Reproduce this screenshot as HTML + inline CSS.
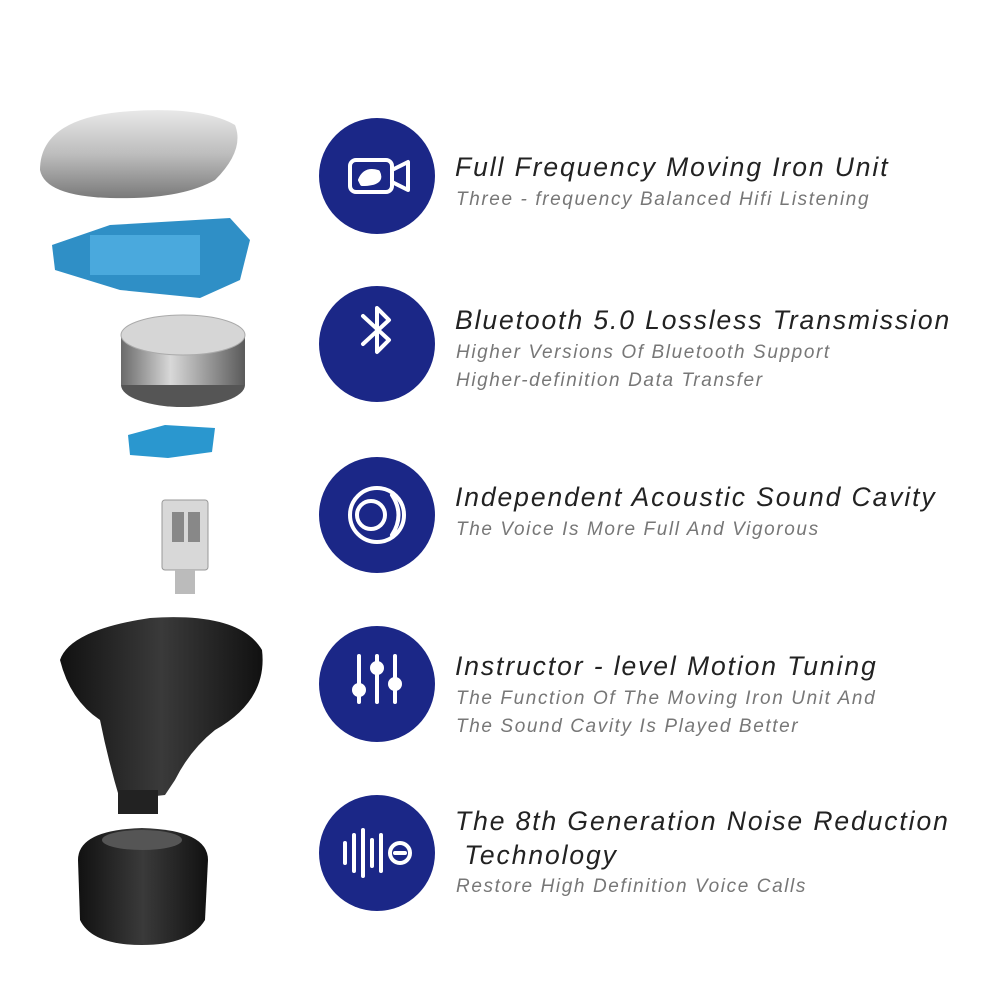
<!DOCTYPE html>
<html><head><meta charset="utf-8"><style>
html,body{margin:0;padding:0;background:#fff;}
.wrap{position:relative;width:1000px;height:1000px;overflow:hidden;font-family:"Liberation Sans",sans-serif;}
.c{position:absolute;width:116px;height:116px;border-radius:50%;background:#1b2787;}
.t{position:absolute;left:455px;font-style:italic;color:#222;font-size:26.5px;letter-spacing:1.9px;white-space:nowrap;}
.s{position:absolute;left:456px;font-style:italic;color:#777;font-size:19px;letter-spacing:1.6px;white-space:nowrap;line-height:28px;}
svg{position:absolute;left:0;top:0;}
</style></head><body><div class="wrap">
<svg width="1000" height="1000">
<defs>
<linearGradient id="sil" x1="0" y1="0" x2="0" y2="1"><stop offset="0" stop-color="#e8e8e8"/><stop offset=".5" stop-color="#bdbdbd"/><stop offset="1" stop-color="#7a7a7a"/></linearGradient>
<linearGradient id="bat" x1="0" y1="0" x2="1" y2="0"><stop offset="0" stop-color="#6a6a6a"/><stop offset=".4" stop-color="#d8d8d8"/><stop offset="1" stop-color="#5a5a5a"/></linearGradient>
<linearGradient id="blk" x1="0" y1="0" x2="1" y2="0"><stop offset="0" stop-color="#111"/><stop offset=".5" stop-color="#3a3a3a"/><stop offset="1" stop-color="#111"/></linearGradient>
</defs>
<path d="M40 170 Q40 120 120 112 Q200 105 235 125 Q245 150 215 180 Q180 200 110 198 Q45 196 40 170Z" fill="url(#sil)"/>
<path d="M52 245 L110 225 L230 218 L250 240 L240 280 L200 298 L120 290 L55 270Z" fill="#2f8fc6"/>
<rect x="90" y="235" width="110" height="40" fill="#4aa9dd"/>
<ellipse cx="183" cy="385" rx="62" ry="22" fill="#555"/>
<rect x="121" y="335" width="124" height="50" fill="url(#bat)"/>
<ellipse cx="183" cy="335" rx="62" ry="20" fill="#d6d6d6" stroke="#aaa"/>
<path d="M128 435 L165 425 L215 428 L212 452 L168 458 L130 455Z" fill="#2a97cf"/>
<rect x="162" y="500" width="46" height="70" rx="3" fill="#d8d8d8" stroke="#999"/>
<rect x="172" y="512" width="12" height="30" fill="#888"/><rect x="188" y="512" width="12" height="30" fill="#888"/>
<rect x="175" y="570" width="20" height="24" fill="#bbb"/>
<path d="M60 660 Q70 630 150 618 Q240 612 262 650 Q268 700 215 730 Q190 750 175 780 L165 795 L120 800 Q108 760 100 720 Q70 700 60 660Z" fill="url(#blk)"/>
<rect x="118" y="790" width="40" height="24" fill="#222"/>
<path d="M78 860 Q78 830 142 828 Q208 830 208 860 L205 920 Q190 945 142 945 Q92 945 80 920Z" fill="url(#blk)"/>
<ellipse cx="142" cy="840" rx="40" ry="10" fill="#555"/>
</svg>
<div class="c" style="left:319px;top:118px"></div>
<div class="c" style="left:319px;top:286px"></div>
<div class="c" style="left:319px;top:457px"></div>
<div class="c" style="left:319px;top:626px"></div>
<div class="c" style="left:319px;top:795px"></div>
<svg width="1000" height="1000" fill="none" stroke="#fff" stroke-width="4" stroke-linecap="round" stroke-linejoin="round">
<rect x="350" y="160" width="42" height="32" rx="6"/><path d="M392 170 L408 162 L408 190 L392 182"/><path d="M360 180 Q365 168 378 172 Q384 184 362 184Z" fill="#fff"/>
<path d="M363 316 L389 340 L377 352 L377 308 L389 320 L363 344"/>
<circle cx="377" cy="515" r="27"/><circle cx="371" cy="515" r="14"/><path d="M392 495 Q405 515 392 535"/>
<path d="M359 656 V702 M377 656 V702 M395 656 V702"/><circle cx="359" cy="690" r="5" fill="#fff"/><circle cx="377" cy="668" r="5" fill="#fff"/><circle cx="395" cy="684" r="5" fill="#fff"/>
<path d="M345 843 V863 M354 835 V871 M363 830 V876 M372 840 V866 M381 835 V871"/><circle cx="400" cy="853" r="10"/><path d="M395 853 H405"/>
</svg>
<div class="t" style="top:152px">Full Frequency Moving Iron Unit</div>
<div class="s" style="top:186px">Three - frequency Balanced Hifi Listening</div>
<div class="t" style="top:305px">Bluetooth 5.0 Lossless Transmission</div>
<div class="s" style="top:339px">Higher Versions Of Bluetooth Support<br>Higher-definition Data Transfer</div>
<div class="t" style="top:482px">Independent Acoustic Sound Cavity</div>
<div class="s" style="top:516px">The Voice Is More Full And Vigorous</div>
<div class="t" style="top:651px">Instructor - level Motion Tuning</div>
<div class="s" style="top:685px">The Function Of The Moving Iron Unit And<br>The Sound Cavity Is Played Better</div>
<div class="t" style="top:806px">The 8th Generation Noise Reduction</div>
<div class="t" style="top:840px">&nbsp;Technology</div>
<div class="s" style="top:873px">Restore High Definition Voice Calls</div>
</div></body></html>
